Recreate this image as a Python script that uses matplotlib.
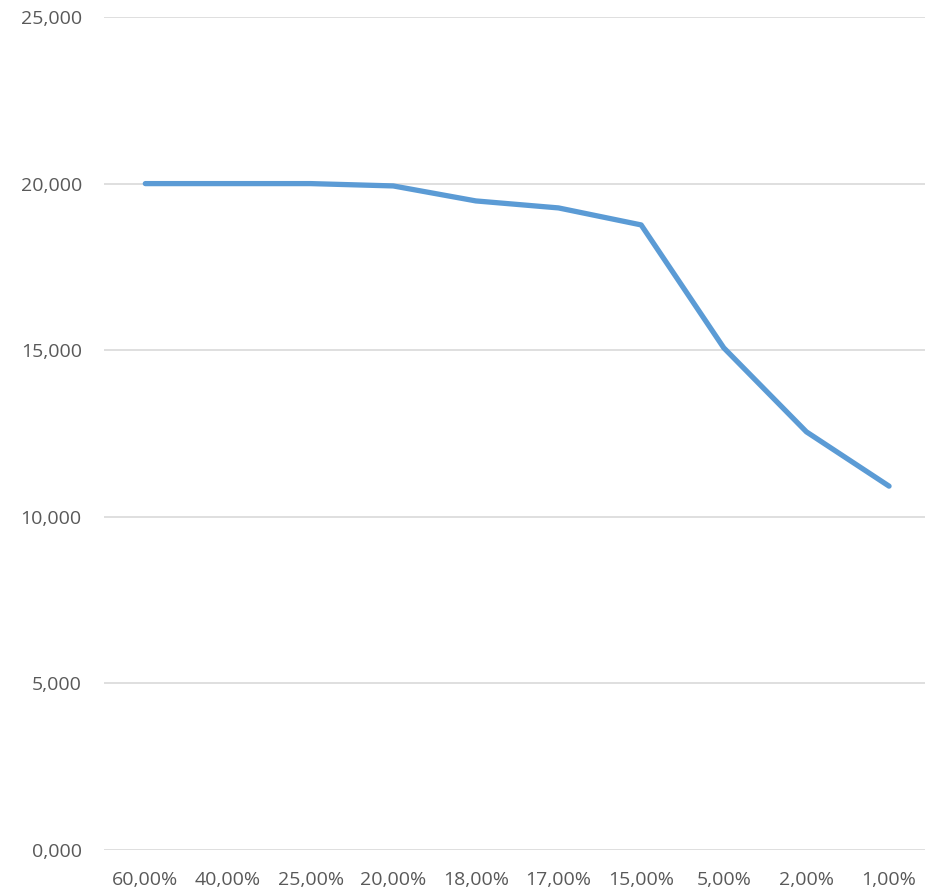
import matplotlib
matplotlib.use("Agg")
import matplotlib.pyplot as plt
from matplotlib.ticker import FuncFormatter

categories = ["60,00%", "40,00%", "25,00%", "20,00%", "18,00%", "17,00%", "15,00%", "5,00%", "2,00%", "1,00%"]
values = [20000, 20000, 20000, 19930, 19480, 19270, 18760, 15070, 12550, 10920]
yticks = [0, 5000, 10000, 15000, 20000, 25000]

plt.rcParams['font.family'] = ['Open Sans', 'DejaVu Sans']
fig = plt.figure(figsize=(9.25, 8.93), dpi=100)
W, H = 925, 893
ax = fig.add_axes([104 / W, (H - 850) / H, (925 - 104) / W, (850 - 17) / H])

x = list(range(len(categories)))
ax.plot(x, values, color="#5B9BD5", linewidth=3.8, solid_capstyle="round", solid_joinstyle="round", zorder=3)

ax.set_xlim(-0.5, 9.435)
ax.set_ylim(0, 25000)
ax.set_yticks(yticks)
ax.yaxis.set_major_formatter(FuncFormatter(lambda v, p: f"{v/1000:.3f}".replace(".", ",")))
ax.set_xticks(x)
ax.set_xticklabels(categories)
ax.grid(axis="y", color="#D9D9D9", linewidth=1.2, zorder=0)
ax.set_axisbelow(True)
for s in ax.spines.values():
    s.set_visible(False)
ax.tick_params(axis="both", length=0, colors="#595959", labelsize=14)
ax.tick_params(axis="y", pad=16)
ax.tick_params(axis="x", pad=15)

fig.savefig("out.png", dpi=100, facecolor="white")
